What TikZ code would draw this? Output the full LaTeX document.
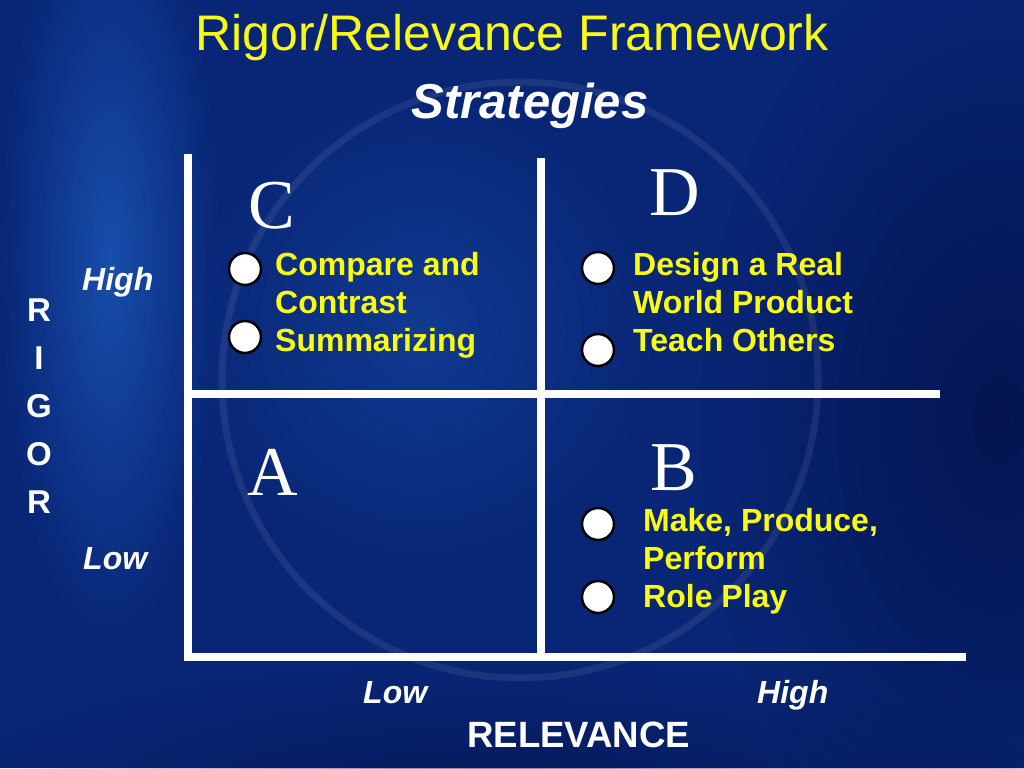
\documentclass[tikz,border=0pt]{standalone}
\usepackage{fontspec}
\setmainfont{Liberation Sans}
\newfontfamily\quadfont{Liberation Serif}
\usetikzlibrary{fadings}

\definecolor{bgbase}{RGB}{9,38,118}
\definecolor{bgglow}{RGB}{30,95,195}
\definecolor{bgdark}{RGB}{3,16,72}
\definecolor{itemyellow}{RGB}{250,250,20}

\tikzfading[name=softglow, inner color=transparent!0, outer color=transparent!100]

\tikzset{
  gridline/.style={white, line width=8pt},
  item/.style={anchor=base west, align=left, text=itemyellow, inner sep=0pt,
    font=\bfseries\fontsize{32}{38}\selectfont},
  dot/.style={circle, draw=black, fill=white, line width=2.5pt,
    minimum width=32pt, minimum height=31pt, inner sep=0pt},
  quad/.style={anchor=base, text=white, inner sep=0pt,
    font=\quadfont\fontsize{70}{70}\selectfont},
  level/.style={anchor=base west, text=white, inner sep=0pt,
    font=\bfseries\itshape\fontsize{32}{32}\selectfont}
}

\begin{document}
\begin{tikzpicture}[x=1pt,y=-1pt]
\useasboundingbox (0,0) rectangle (1024,768);
\clip (0,0) rectangle (1024,768);
% background
\fill[bgbase] (0,0) rectangle (1024,768);
\fill[bgglow, path fading=softglow, opacity=.7] (110,260) ellipse (110 and 380);
\fill[bgglow, path fading=softglow, opacity=.35] (420,330) circle (240);
\fill[bgdark, path fading=softglow, opacity=.8] (1000,420) ellipse (300 and 480);
\fill[bgdark, path fading=softglow, opacity=.6] (500,800) ellipse (560 and 140);
\draw[white, opacity=.08, line width=7pt] (520,380) circle (298);

% titles
\node[anchor=base, text=itemyellow, inner sep=0pt, font=\fontsize{50}{50}\selectfont]
  (title) at (512,50) {Rigor/Relevance Framework};
\node[anchor=base, text=white, inner sep=0pt, font=\bfseries\itshape\fontsize{49}{49}\selectfont]
  (subtitle) at (530,118) {Strategies};

% grid
\coordinate (lefttop) at (188,154);
\coordinate (leftbot) at (188,661);
\coordinate (midtop) at (541,158);
\coordinate (midbot) at (541,657);
\coordinate (rowleft) at (184,394);
\coordinate (rowright) at (940,394);
\coordinate (baseleft) at (184,657);
\coordinate (baseright) at (966,657);
\draw[gridline] (lefttop) -- (leftbot);
\draw[gridline] (midtop) -- (midbot);
\draw[gridline] (rowleft) -- (rowright);
\draw[gridline] (baseleft) -- (baseright);

% quadrant letters
\node[quad] (qc) at (272,228) {C};
\node[quad] (qd) at (675,215) {D};
\node[quad] (qa) at (273,495) {A};
\node[quad] (qb) at (674,490) {B};

% strategies (base = last line)
\node[dot] (c1) at (245,269) {};
\node[dot] (c2) at (245,337) {};
\node[item] (ctext) at (275,351) {Compare and\\Contrast\\Summarizing};
\node[dot] (d1) at (598,268) {};
\node[dot] (d2) at (598,350) {};
\node[item] (dtext) at (633,351) {Design a Real\\World Product\\Teach Others};
\node[dot] (b1) at (598,524) {};
\node[dot] (b2) at (598,597) {};
\node[item] (btext) at (643,607) {Make, Produce,\\Perform\\Role Play};

% axes
\node[anchor=base, align=center, text=white, inner sep=0pt,
  font=\bfseries\fontsize{33}{48}\selectfont] (rigor) at (39,513) {R\\I\\G\\O\\R};
\node[level] (rigorhigh) at (82,290) {High};
\node[level] (rigorlow) at (83,569) {Low};
\node[level] (relevlow) at (363,703) {Low};
\node[level] (relevhigh) at (757,703) {High};
\node[anchor=base west, text=white, inner sep=0pt,
  font=\bfseries\fontsize{36.6}{36.6}\selectfont] (relevance) at (467,747) {RELEVANCE};
\end{tikzpicture}
\end{document}
